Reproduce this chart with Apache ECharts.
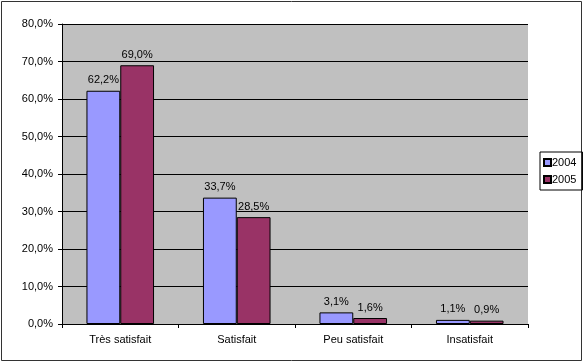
<!DOCTYPE html>
<html>
<head>
<meta charset="utf-8">
<script src="https://cdn.jsdelivr.net/npm/echarts@6/dist/echarts.min.js"></script>
<style>
  html, body { margin: 0; padding: 0; background: #fff; }
  #chart { width: 584px; height: 363px; }
</style>
</head>
<body>
<div id="chart"></div>
<script>
// Satisfaction survey results, 2004 vs 2005
const categories = ['Très satisfait', 'Satisfait', 'Peu satisfait', 'Insatisfait'];
const values2004 = [62.2, 33.7, 3.1, 1.1];
const values2005 = [69.0, 28.5, 1.6, 0.9];
const seriesNames = ['2004', '2005'];

const pct = v => v.toFixed(1).replace('.', ',') + '%';
const font = 'Arial, "Liberation Sans", sans-serif';

const chart = echarts.init(document.getElementById('chart'));
chart.setOption({
  animation: false,
  backgroundColor: '#ffffff',
  textStyle: { fontFamily: font },
  graphic: [{
    type: 'rect',
    shape: { x: 1.5, y: 1.5, width: 580, height: 359 },
    style: { fill: 'none', stroke: '#333', lineWidth: 1 },
    silent: true
  }],
  grid: {
    left: 62, right: 56, top: 24, bottom: 39,
    show: true, backgroundColor: '#c0c0c0', borderWidth: 0
  },
  legend: {
    orient: 'vertical',
    left: 540, top: 152,
    itemWidth: 7, itemHeight: 7, itemGap: 6,
    padding: [5, 6, 5, 3],
    borderColor: '#000', borderWidth: 1,
    textStyle: { fontSize: 11, color: '#000', fontFamily: font, padding: [0, 0, 0, -4] },
    data: seriesNames.map(n => ({ name: n, icon: 'rect' }))
  },
  xAxis: {
    type: 'category',
    data: categories,
    axisLine: { lineStyle: { color: '#000', width: 1 } },
    axisTick: { show: true, length: 4, lineStyle: { color: '#000' } },
    axisLabel: { color: '#000', fontSize: 11, margin: 10, fontFamily: font }
  },
  yAxis: {
    type: 'value',
    min: 0, max: 80, interval: 10,
    axisLine: { show: true, lineStyle: { color: '#000' } },
    axisTick: { show: true, length: 4, lineStyle: { color: '#000' } },
    axisLabel: { color: '#000', fontSize: 11, margin: 9, formatter: pct, fontFamily: font },
    splitLine: { lineStyle: { color: '#000', width: 1 } }
  },
  series: [
    {
      name: seriesNames[0], type: 'bar', data: values2004,
      barGap: '0%', barCategoryGap: '42%',
      itemStyle: { color: '#9999ff', borderColor: '#000', borderWidth: 1 },
      label: { show: true, position: 'top', distance: 5, color: '#000', fontSize: 11,
               fontFamily: font, formatter: p => pct(p.value) }
    },
    {
      name: seriesNames[1], type: 'bar', data: values2005,
      barGap: '0%', barCategoryGap: '42%',
      itemStyle: { color: '#993366', borderColor: '#000', borderWidth: 1 },
      label: { show: true, position: 'top', distance: 5, color: '#000', fontSize: 11,
               fontFamily: font, formatter: p => pct(p.value) }
    }
  ]
});
</script>
</body>
</html>
